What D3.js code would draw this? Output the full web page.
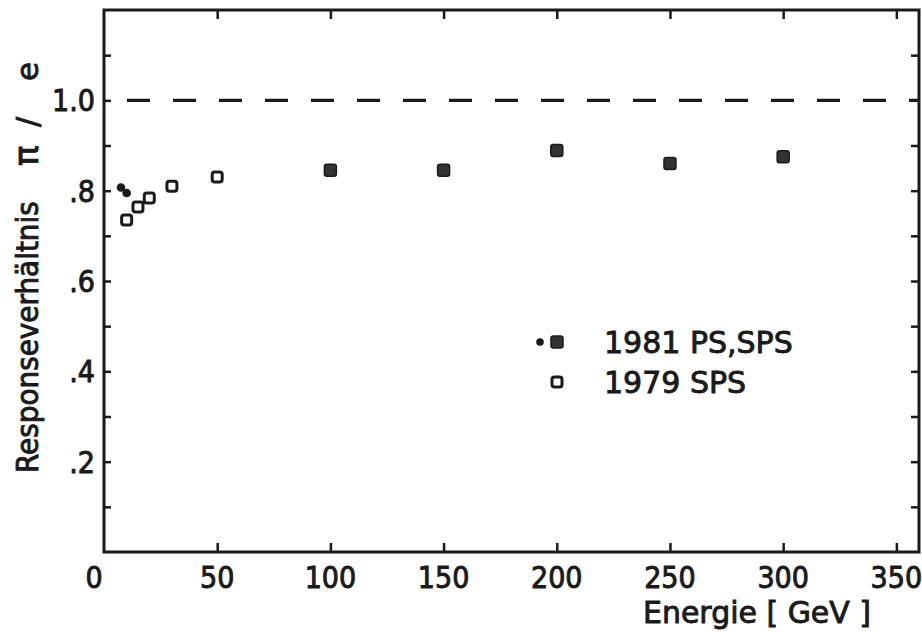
<!DOCTYPE html>
<html>
<head>
<meta charset="utf-8">
<script src="https://cdn.jsdelivr.net/npm/d3@7"></script>
<style>
  html, body { margin: 0; padding: 0; background: #fff; }
  svg { display: block; }
  text { font-family: "DejaVu Sans", sans-serif; fill: #1a1a1a; stroke: #1a1a1a; stroke-width: 0.9; }
  .cond { font-family: "DejaVu Sans Condensed", "DejaVu Sans", sans-serif; }
</style>
</head>
<body>
<svg id="chart" width="922" height="632"></svg>
<script>
// Pion / electron response ratio versus beam energy
const psDotsEnergy   = [7.5, 10];          // 1981 PS (small filled dots)
const psDotsRatio    = [0.807, 0.795];
const sps81Energy    = [100, 150, 200, 250, 300];   // 1981 SPS (filled squares)
const sps81Ratio     = [0.845, 0.845, 0.889, 0.860, 0.875];
const sps79Energy    = [10, 15, 20, 30, 50];        // 1979 SPS (open squares)
const sps79Ratio     = [0.735, 0.764, 0.784, 0.810, 0.830];

const xTickValues = [0, 50, 100, 150, 200, 250, 300, 350];
const xTickLabels = ["0", "50", "100", "150", "200", "250", "300", "350"];
const yTickValues = [0.2, 0.4, 0.6, 0.8, 1.0];
const yTickLabels = [".2", ".4", ".6", ".8", "1.0"];
const yMinorTicks = [0.1, 0.2, 0.3, 0.4, 0.5, 0.6, 0.7, 0.8, 0.9, 1.0, 1.1];
const referenceLevel = 1.0;

const ink = "#1a1a1a";
const svg = d3.select("#chart");
const plotL = 104, plotR = 919, plotT = 10, plotB = 552;

const x = d3.scaleLinear().domain([0, 360]).range([plotL, plotR]);
const y = d3.scaleLinear().domain([0, 1.2]).range([plotB, plotT]);

// frame
svg.append("rect")
  .attr("x", plotL).attr("y", plotT)
  .attr("width", plotR - plotL).attr("height", plotB - plotT)
  .attr("fill", "none").attr("stroke", ink).attr("stroke-width", 3);

// inward ticks on all four sides
function styleAxis(g) {
  g.select(".domain").remove();
  g.selectAll(".tick line").attr("stroke", ink).attr("stroke-width", 2.5);
}
svg.append("g").attr("transform", `translate(0,${plotB})`)
  .call(d3.axisBottom(x).tickValues(xTickValues.slice(1)).tickSize(-9).tickFormat(""))
  .call(styleAxis);
svg.append("g").attr("transform", `translate(0,${plotT})`)
  .call(d3.axisTop(x).tickValues(xTickValues.slice(1)).tickSize(-9).tickFormat(""))
  .call(styleAxis);
svg.append("g").attr("transform", `translate(${plotL},0)`)
  .call(d3.axisLeft(y).tickValues(yMinorTicks).tickSize(-7).tickFormat(""))
  .call(styleAxis);
svg.append("g").attr("transform", `translate(${plotR},0)`)
  .call(d3.axisRight(y).tickValues(yMinorTicks).tickSize(-8).tickFormat(""))
  .call(styleAxis);

// tick labels
svg.append("g").selectAll("text").data(xTickValues).join("text")
  .attr("class", "cond")
  .attr("x", d => x(d) - (d === 0 ? 10 : 0))
  .attr("y", 588)
  .attr("text-anchor", "middle")
  .attr("font-size", 30)
  .text((d, i) => xTickLabels[i]);
svg.append("g").selectAll("text").data(yTickValues).join("text")
  .attr("class", "cond")
  .attr("x", 95)
  .attr("y", d => y(d) + 11)
  .attr("text-anchor", "end")
  .attr("font-size", 30)
  .text((d, i) => yTickLabels[i]);

// x-axis title
svg.append("text")
  .attr("x", 643).attr("y", 623)
  .attr("font-size", 30)
  .attr("textLength", 228).attr("lengthAdjust", "spacingAndGlyphs")
  .text("Energie  [ GeV ]");

// y-axis title, written bottom-to-top
const yTitle = svg.append("g").attr("transform", "translate(38,473) rotate(-90)");
yTitle.append("text")
  .attr("class", "cond")
  .attr("x", 0).attr("y", 0)
  .attr("font-size", 31)
  .text("Responseverhältnis");
yTitle.append("text").attr("x", 307).attr("y", 0).attr("font-size", 34).text("π");
yTitle.append("text").attr("x", 346).attr("y", 0).attr("font-size", 30).text("/");
yTitle.append("text").attr("x", 392).attr("y", 0).attr("font-size", 31).text("e");

// dashed reference line
svg.append("line")
  .attr("x1", x(0) + 23).attr("x2", plotR)
  .attr("y1", y(referenceLevel)).attr("y2", y(referenceLevel))
  .attr("stroke", ink).attr("stroke-width", 3.2)
  .attr("stroke-dasharray", "23 23");

// data marks
const s = 12;
svg.append("g").selectAll("circle").data(psDotsEnergy).join("circle")
  .attr("cx", d => x(d)).attr("cy", (d, i) => y(psDotsRatio[i]))
  .attr("r", 4.3).attr("fill", ink);
svg.append("g").selectAll("rect").data(sps81Energy).join("rect")
  .attr("x", d => x(d) - s / 2).attr("y", (d, i) => y(sps81Ratio[i]) - s / 2)
  .attr("width", s).attr("height", s).attr("rx", 2.5)
  .attr("fill", "#333").attr("stroke", ink).attr("stroke-width", 1.5);
svg.append("g").selectAll("rect").data(sps79Energy).join("rect")
  .attr("x", d => x(d) - 5).attr("y", (d, i) => y(sps79Ratio[i]) - 5)
  .attr("width", 10).attr("height", 10).attr("rx", 2.5)
  .attr("fill", "#fff").attr("stroke", ink).attr("stroke-width", 3);

// legend
const lg = svg.append("g");
lg.append("circle").attr("cx", 540).attr("cy", 342).attr("r", 3.8).attr("fill", ink);
lg.append("rect").attr("x", 551).attr("y", 336).attr("width", 12).attr("height", 12)
  .attr("rx", 2.5).attr("fill", "#333").attr("stroke", ink).attr("stroke-width", 1.5);
lg.append("rect").attr("x", 552).attr("y", 377).attr("width", 10).attr("height", 10)
  .attr("rx", 2.5).attr("fill", "#fff").attr("stroke", ink).attr("stroke-width", 3);
lg.append("text").attr("x", 604).attr("y", 353).attr("font-size", 30).text("1981 PS,SPS");
lg.append("text").attr("x", 604).attr("y", 393).attr("font-size", 30).text("1979 SPS");
</script>
</body>
</html>
